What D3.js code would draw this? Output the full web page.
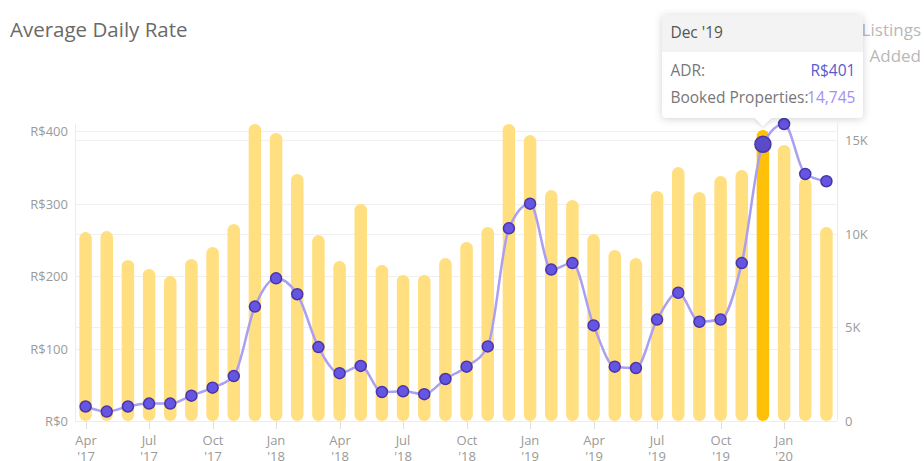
<!DOCTYPE html>
<html>
<head>
<meta charset="utf-8">
<script src="https://cdn.jsdelivr.net/npm/d3@7"></script>
<style>
  body { margin: 0; background: #fff; font-family: "Open Sans", sans-serif; }
  #wrap { position: relative; width: 924px; height: 461px; overflow: hidden; }
  #tip {
    position: absolute; background: #fff; border-radius: 4px;
    box-shadow: 0 1px 8px rgba(0,0,0,0.18); color: #777;
  }
  #tip .hd { position: absolute; left: 0; right: 0; top: 0; height: 37px; background: #f3f3f3;
             border-radius: 4px 4px 0 0; }
  #tip .t { position: absolute; white-space: nowrap; font-size: 15.5px; line-height: 1; }
  #tip .arrow {
    position: absolute; bottom: -6px; width: 12px; height: 12px; background: #fff;
    transform: rotate(45deg); box-shadow: 2px 2px 3px rgba(0,0,0,0.08);
  }
</style>
</head>
<body>
<div id="wrap">
  <svg id="svg" width="924" height="461"></svg>
  <div id="tip"></div>
</div>
<script>
////////////////////////////////////////////////////////////////////////
// Data

let months = ["Apr '17","May '17","Jun '17","Jul '17","Aug '17","Sep '17","Oct '17","Nov '17",
              "Dec '17","Jan '18","Feb '18","Mar '18","Apr '18","May '18","Jun '18","Jul '18",
              "Aug '18","Sep '18","Oct '18","Nov '18","Dec '18","Jan '19","Feb '19","Mar '19",
              "Apr '19","May '19","Jun '19","Jul '19","Aug '19","Sep '19","Oct '19","Nov '19",
              "Dec '19","Jan '20","Feb '20","Mar '20"];

// average daily rate (R$), left axis
let adr = [20, 13, 20, 24, 24, 35, 46, 62,
           158, 197, 175, 102, 66, 76, 40, 41,
           37, 58, 75, 103, 266, 300, 209, 218,
           132, 75, 73, 140, 177, 137, 140, 218,
           382, 410, 341, 331];

// booked properties, right axis
let booked = [10090, 10140, 8600, 8120, 7740, 8650, 9290, 10520,
              15860, 15380, 13190, 9930, 8540, 11590, 8330, 7800,
              7800, 8700, 9560, 10360, 15860, 15270, 12330, 11800,
              9980, 9130, 8700, 12280, 13560, 12230, 13080, 13400,
              15540, 14740, 12950, 10360];

let leftTicks = [0, 100, 200, 300, 400];
let rightTicks = [0, 5000, 10000, 15000];
let tickMonths = ["Apr '17","Jul '17","Oct '17","Jan '18","Apr '18","Jul '18","Oct '18",
                  "Jan '19","Apr '19","Jul '19","Oct '19","Jan '20"];

let hoverMonth = "Dec '19";
let tipAdr = "R$401";
let tipBooked = "14,745";

////////////////////////////////////////////////////////////////////////
// Layout

let margin = { left: 75, right: 87, top: 124, bottom: 40 };
let width = 924, height = 461;
let base = 421;

let x = d3.scaleBand()
          .domain(months)
          .range([margin.left, width - margin.right])
          .paddingInner(0.41)
          .paddingOuter(0.205);

let yL = d3.scaleLinear()
           .domain([0, d3.max(adr)])
           .range([base, margin.top]);

let yR = d3.scaleLinear()
           .domain([0, d3.max(booked)])
           .range([base, margin.top]);

let svg = d3.select("#svg");
let cx = function(m) { return x(m) + x.bandwidth() / 2; };

// title
svg.append("text")
   .attr("x", 10).attr("y", 37)
   .attr("font-size", 20.5).attr("fill", "#6a6a6a")
   .text("Average Daily Rate");

// legend text (mostly behind tooltip)
svg.append("text")
   .attr("x", 921).attr("y", 36)
   .attr("text-anchor", "end").attr("font-size", 17).attr("fill", "#b8b8b8")
   .text("Listings");
svg.append("text")
   .attr("x", 921).attr("y", 62)
   .attr("text-anchor", "end").attr("font-size", 17).attr("fill", "#b8b8b8")
   .text("Added");

// gridlines
svg.append("g").selectAll("line")
   .data(leftTicks.slice(1)).enter().append("line")
   .attr("x1", margin.left).attr("x2", width - margin.right)
   .attr("y1", function(d) { return Math.round(yL(d)) + 0.5; })
   .attr("y2", function(d) { return Math.round(yL(d)) + 0.5; })
   .attr("stroke", "#f0f0f0");
svg.append("g").selectAll("line")
   .data(rightTicks.slice(1)).enter().append("line")
   .attr("x1", margin.left).attr("x2", width - margin.right)
   .attr("y1", function(d) { return Math.round(yR(d)) + 0.5; })
   .attr("y2", function(d) { return Math.round(yR(d)) + 0.5; })
   .attr("stroke", "#f0f0f0");

// axis lines
svg.append("line")
   .attr("x1", margin.left + 0.5).attr("x2", margin.left + 0.5)
   .attr("y1", margin.top).attr("y2", base).attr("stroke", "#ececec");
svg.append("line")
   .attr("x1", width - margin.right + 0.5).attr("x2", width - margin.right + 0.5)
   .attr("y1", margin.top).attr("y2", base).attr("stroke", "#ececec");
svg.append("line")
   .attr("x1", margin.left).attr("x2", width - margin.right)
   .attr("y1", base + 0.5).attr("y2", base + 0.5).attr("stroke", "#ececec");

// left tick labels
svg.append("g").selectAll("text")
   .data(leftTicks).enter().append("text")
   .attr("x", 68).attr("y", function(d) { return yL(d) + 5; })
   .attr("text-anchor", "end").attr("font-size", 13).attr("fill", "#9a9a9a")
   .text(function(d) { return "R$" + d; });

// right tick labels
svg.append("g").selectAll("text")
   .data(rightTicks).enter().append("text")
   .attr("x", 845).attr("y", function(d) { return yR(d) + 5; })
   .attr("font-size", 13).attr("fill", "#9a9a9a")
   .text(function(d) { return d === 0 ? "0" : (d / 1000) + "K"; });

// bottom ticks and labels (second line is cut off by the frame, as in the original)
let tg = svg.append("g").selectAll("g")
            .data(tickMonths).enter().append("g")
            .attr("transform", function(d) { return "translate(" + Math.round(cx(d)) + ",0)"; });
tg.append("line")
  .attr("x1", 0.5).attr("x2", 0.5).attr("y1", 422).attr("y2", 429)
  .attr("stroke", "#dedede");
tg.append("text")
  .attr("y", 445).attr("text-anchor", "middle").attr("font-size", 13).attr("fill", "#9a9a9a")
  .text(function(d) { return d.split(" ")[0]; });
tg.append("text")
  .attr("y", 461).attr("text-anchor", "middle").attr("font-size", 13).attr("fill", "#9a9a9a")
  .text(function(d) { return d.split(" ")[1]; });

// bars
let bw = 12.5;
svg.append("g").selectAll("rect")
   .data(months).enter().append("rect")
   .attr("x", function(d) { return cx(d) - bw / 2; })
   .attr("width", bw)
   .attr("y", function(d, i) { return yR(booked[i]); })
   .attr("height", function(d, i) { return base - yR(booked[i]); })
   .attr("rx", bw / 2)
   .attr("fill", function(d) { return d === hoverMonth ? "#ffc107" : "#ffdf80"; });

// ADR line
let line = d3.line()
             .x(function(d, i) { return cx(months[i]); })
             .y(function(d) { return yL(d); })
             .curve(d3.curveMonotoneX);
svg.append("path")
   .datum(adr)
   .attr("d", line)
   .attr("fill", "none")
   .attr("stroke", "#ab9ff0")
   .attr("stroke-width", 2.5);

// points
svg.append("g").selectAll("circle")
   .data(adr).enter().append("circle")
   .attr("cx", function(d, i) { return cx(months[i]); })
   .attr("cy", function(d) { return yL(d); })
   .attr("r", function(d, i) { return months[i] === hoverMonth ? 8 : 5.5; })
   .attr("fill", function(d, i) { return months[i] === hoverMonth ? "#5a4bc9" : "#6655e3"; })
   .attr("stroke", "#4636a8")
   .attr("stroke-width", 1.5);

// tooltip
let tipW = 201, tipH = 103;
let tip = d3.select("#tip")
            .style("left", (cx(hoverMonth) - tipW / 2) + "px")
            .style("top", "15px")
            .style("width", tipW + "px")
            .style("height", tipH + "px");
tip.append("div").attr("class", "hd");
tip.append("div").attr("class", "t").style("left", "8px").style("top", "10px")
   .style("color", "#555").text(hoverMonth);
tip.append("div").attr("class", "t").style("left", "8px").style("top", "48px").text("ADR:");
tip.append("div").attr("class", "t").style("right", "8px").style("top", "48px")
   .style("color", "#5a5ad0").text(tipAdr);
tip.append("div").attr("class", "t").style("left", "8px").style("top", "75px")
   .text("Booked Properties:");
tip.append("div").attr("class", "t").style("right", "8px").style("top", "75px")
   .style("color", "#a390ee").text(tipBooked);
tip.append("div").attr("class", "arrow").style("left", (tipW / 2 - 6) + "px");
</script>
</body>
</html>
